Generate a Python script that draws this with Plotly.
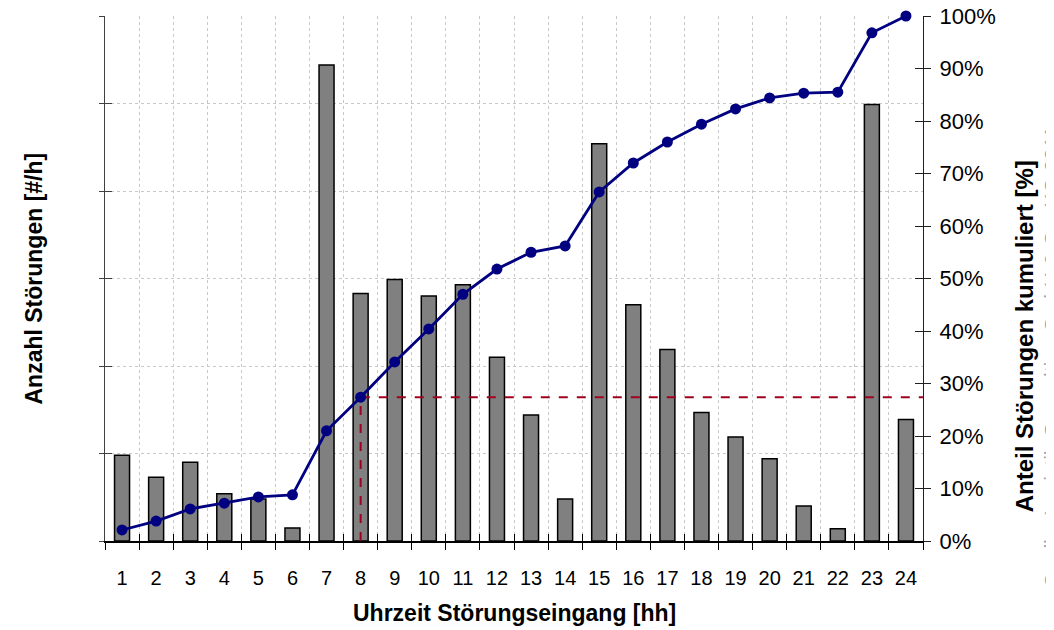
import plotly.graph_objects as go

hours = list(range(1, 25))
# Anzahl Störungen (relative scale, left axis has no labels)
counts = [9.8, 7.3, 9.0, 5.4, 4.8, 1.5, 54.4, 28.3, 29.9, 28.0, 29.3, 21.0,
          14.4, 4.8, 45.4, 27.0, 21.9, 14.7, 11.9, 9.4, 4.0, 1.4, 49.9, 13.9]
# Anteil Störungen kumuliert
cum_share = [0.021, 0.038, 0.061, 0.072, 0.084, 0.088, 0.210, 0.274, 0.341,
             0.404, 0.470, 0.518, 0.550, 0.562, 0.665, 0.720, 0.760, 0.794,
             0.823, 0.844, 0.853, 0.855, 0.968, 1.000]
pct_ticks = [i / 10 for i in range(11)]
threshold_hour = 8

FONT = "Liberation Sans, Arial, sans-serif"
x_lo, x_hi = hours[0] - 0.5, hours[-1] + 0.5
boundaries = [h - 0.5 for h in hours] + [x_hi]
thr_val = cum_share[hours.index(threshold_hour)]

fig = go.Figure()
fig.add_trace(go.Bar(x=hours, y=counts, width=0.44, marker=dict(color="#808080",
              line=dict(color="#000000", width=1.5)), yaxis="y", showlegend=False))
fig.add_trace(go.Scatter(x=[threshold_hour, threshold_hour, x_hi], y=[0, thr_val, thr_val],
              mode="lines", line=dict(color="#A00020", width=2, dash="dash"),
              yaxis="y2", showlegend=False, cliponaxis=False))
fig.add_trace(go.Scatter(x=hours, y=cum_share, mode="lines+markers",
              line=dict(color="#000080", width=2.8),
              marker=dict(color="#000080", size=11), yaxis="y2", showlegend=False,
              cliponaxis=False))
fig.add_trace(go.Scatter(x=[None], y=[None], xaxis="x2", yaxis="y3", showlegend=False))
fig.add_trace(go.Scatter(x=[None], y=[None], yaxis="y4", showlegend=False))

grid = dict(showgrid=True, gridcolor="#C8C8C8", griddash="dot", gridwidth=1)
fig.update_layout(
    width=1054, height=630,
    margin=dict(l=97, r=139, t=8, b=97, autoexpand=False),
    paper_bgcolor="white", plot_bgcolor="white",
    font=dict(family=FONT, size=20, color="#000000"),
    bargap=0.56,
    xaxis=dict(range=[x_lo, x_hi], tickmode="array", tickvals=hours,
               ticktext=[str(h) for h in hours], ticks="", showgrid=False,
               showline=True, linecolor="#000000", linewidth=1.5,
               tickfont=dict(size=20), zeroline=False, automargin=False,
               ticklabelstandoff=18, ticklabeloverflow="allow",
               minor=dict(tickmode="array", tickvals=boundaries, ticks="outside",
                          ticklen=7, tickcolor="#000000", tickwidth=1.3,
                          **grid)),
    xaxis2=dict(range=[x_lo, x_hi], overlaying="x", anchor="y", tickmode="array",
                tickvals=boundaries, ticks="inside", ticklen=7, tickcolor="#000000",
                tickwidth=1.3, showticklabels=False, showgrid=False, showline=False,
                zeroline=False, automargin=False),
    yaxis=dict(range=[0, 60], dtick=10, showticklabels=False, ticks="outside",
               ticklen=5, tickcolor="#404040", showline=True, linecolor="#404040",
               linewidth=1.3, zeroline=False, automargin=False, **grid),
    yaxis3=dict(range=[0, 60], dtick=10, overlaying="y", anchor="x",
                showticklabels=False, ticks="inside", ticklen=7, tickcolor="#404040",
                showgrid=False, showline=False, zeroline=False, automargin=False),
    yaxis2=dict(range=[0, 1], overlaying="y", side="right", anchor="x",
                tickmode="array", tickvals=pct_ticks,
                ticktext=[f"{int(round(v * 100))}%" for v in pct_ticks],
                ticks="outside", ticklen=7, tickcolor="#202020", showline=True,
                linecolor="#202020", linewidth=1.3, showgrid=False, zeroline=False,
                tickfont=dict(size=22), automargin=False, ticklabelstandoff=4,
                ticklabeloverflow="allow"),
    yaxis4=dict(range=[0, 1], overlaying="y", side="right", anchor="x",
                tickvals=pct_ticks, ticks="inside", ticklen=8, tickcolor="#202020",
                showticklabels=False, showgrid=False, showline=False, zeroline=False,
                automargin=False),
)

ann = dict(xref="paper", yref="paper", showarrow=False)
fig.add_annotation(text="<b>Uhrzeit Störungseingang [hh]</b>", x=0.5, y=-0.137,
                   xanchor="center", yanchor="middle",
                   font=dict(family=FONT, size=23, color="#000000"), **ann)
fig.add_annotation(text="<b>Anzahl Störungen [#/h]</b>", x=-0.088, y=0.5, textangle=-90,
                   xanchor="center", yanchor="middle",
                   font=dict(family=FONT, size=23, color="#000000"), **ann)
fig.add_annotation(text="<b>Anteil Störungen kumuliert [%]</b>", x=1.1235, y=0.39,
                   textangle=-90, xanchor="center", yanchor="middle",
                   font=dict(family=FONT, size=24, color="#000000"), **ann)
fig.add_annotation(text="Quelle: Logistik-Consulting GmbH &amp; Co. KG 2011",
                   x=1.1565, y=0.35, textangle=-90, xanchor="center", yanchor="middle",
                   font=dict(family=FONT, size=21, color="#A0A0A0"), **ann)

fig.write_html("out.html")
